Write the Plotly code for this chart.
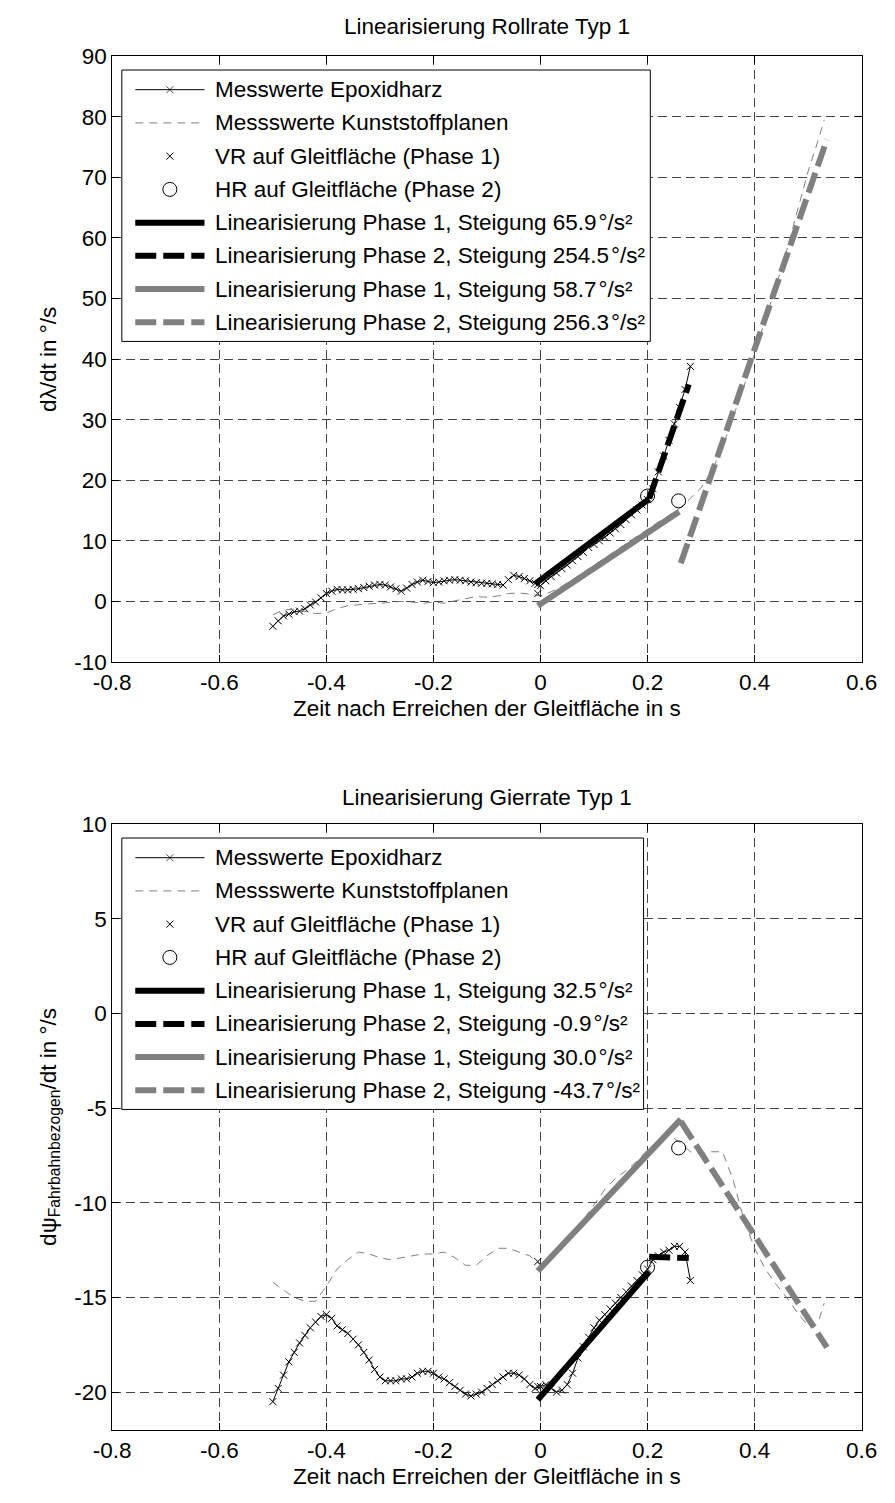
import plotly.graph_objects as go

# ---------------- data ----------------
# sample times of the epoxy measurement (s)
t_epoxy = [-0.50, -0.49, -0.48, -0.47, -0.46, -0.45, -0.44, -0.43, -0.42, -0.41,
           -0.40, -0.39, -0.38, -0.37, -0.36, -0.35, -0.34, -0.33, -0.32, -0.31,
           -0.30, -0.29, -0.28, -0.27, -0.26, -0.25, -0.24, -0.23, -0.22, -0.21,
           -0.20, -0.19, -0.18, -0.17, -0.16, -0.15, -0.14, -0.13, -0.12, -0.11,
           -0.10, -0.09, -0.08, -0.07, -0.06, -0.05, -0.04, -0.03, -0.02, -0.01,
           0.00, 0.01, 0.02, 0.03, 0.04, 0.05, 0.06, 0.07, 0.08, 0.09,
           0.10, 0.11, 0.12, 0.13, 0.14, 0.15, 0.16, 0.17, 0.18, 0.19,
           0.20, 0.21, 0.22, 0.23, 0.24, 0.25, 0.26, 0.27, 0.28]

# roll rate, epoxy surface (deg/s)
roll_epoxy = [-4.1, -3.2, -2.4, -2.1, -1.7, -1.6, -1.2, -0.6, -0.1, 0.6,
              1.3, 1.7, 2.0, 1.9, 1.9, 2.0, 2.1, 2.3, 2.5, 2.7,
              2.8, 2.7, 2.4, 2.1, 1.7, 2.2, 2.8, 3.2, 3.5, 3.3,
              3.1, 3.2, 3.4, 3.5, 3.6, 3.5, 3.4, 3.2, 3.1, 3.0,
              3.0, 2.9, 2.8, 2.7, 3.6, 4.3, 4.1, 3.8, 3.4, 3.0,
              2.6, 3.4, 4.1, 4.7, 5.4, 6.0, 6.7, 7.4, 8.1, 8.9,
              9.4, 10.0, 10.6, 11.3, 12.0, 12.7, 13.5, 14.3, 15.1, 15.9,
              16.8, 18.6, 21.4, 24.0, 26.6, 29.3, 32.0, 35.0, 38.8]

# yaw rate, epoxy surface (deg/s)
yaw_epoxy = [-20.5, -19.8, -19.1, -18.4, -17.9, -17.4, -17.0, -16.6, -16.3, -16.0,
             -15.9, -16.1, -16.5, -16.7, -16.9, -17.2, -17.5, -17.9, -18.3, -18.8,
             -19.2, -19.4, -19.4, -19.4, -19.3, -19.3, -19.2, -19.0, -18.9, -18.9,
             -19.0, -19.2, -19.3, -19.5, -19.7, -19.9, -20.1, -20.2, -20.1, -20.0,
             -19.8, -19.6, -19.4, -19.2, -19.0, -19.0, -19.1, -19.3, -19.6, -19.8,
             -19.7, -19.6, -19.8, -20.0, -19.9, -19.6, -19.0, -18.2, -17.6, -17.1,
             -16.6, -16.2, -15.9, -15.6, -15.3, -15.0, -14.7, -14.4, -14.1, -13.8,
             -13.5, -13.0, -12.8, -12.6, -12.5, -12.3, -12.3, -12.6, -14.1]

# plastic tarpaulin measurement, roll rate
t_plane_roll = [-0.50, -0.48, -0.46, -0.44, -0.42, -0.40, -0.38, -0.36, -0.34, -0.32,
                -0.30, -0.28, -0.26, -0.24, -0.22, -0.20, -0.18, -0.16, -0.14, -0.12,
                -0.10, -0.08, -0.06, -0.04, -0.02, 0.00, 0.02, 0.04, 0.06, 0.08,
                0.10, 0.12, 0.14, 0.16, 0.18, 0.20, 0.22, 0.24, 0.26, 0.28,
                0.30, 0.32, 0.34, 0.36, 0.38, 0.40, 0.42, 0.44, 0.46, 0.48,
                0.50, 0.52, 0.53]
roll_plane = [-2.2, -1.4, -1.3, -1.6, -2.0, -1.9, -1.2, -0.7, -0.5, -0.4,
              -0.3, -0.1, 0.0, -0.1, -0.3, -0.1, -0.3, 0.1, 0.5, 0.8,
              0.7, 0.9, 1.3, 1.4, 1.2, 0.9, 1.6, 2.5, 3.6, 4.8,
              6.0, 7.2, 8.3, 9.5, 10.7, 11.9, 13.1, 14.2, 15.4, 17.0,
              18.8, 21.5, 25.5, 30.5, 35.5, 41.0, 46.5, 52.0, 58.0, 64.5,
              71.0, 76.5, 79.5]

# plastic tarpaulin measurement, yaw rate
t_plane_yaw = [-0.50, -0.48, -0.46, -0.44, -0.42, -0.40, -0.38, -0.36, -0.34, -0.32,
               -0.30, -0.28, -0.26, -0.24, -0.22, -0.20, -0.18, -0.16, -0.14, -0.12,
               -0.10, -0.08, -0.06, -0.04, -0.02, 0.00, 0.02, 0.04, 0.06, 0.08,
               0.10, 0.12, 0.14, 0.16, 0.18, 0.20, 0.22, 0.24, 0.26, 0.28,
               0.30, 0.32, 0.34, 0.36, 0.38, 0.40, 0.42, 0.44, 0.46, 0.48,
               0.50, 0.51, 0.52, 0.53]
yaw_plane = [-14.2, -14.6, -15.0, -15.2, -15.2, -14.4, -13.5, -13.0, -12.6, -12.7,
             -12.9, -13.0, -12.9, -12.8, -12.7, -12.7, -12.6, -12.9, -13.3, -13.3,
             -12.8, -12.4, -12.4, -12.6, -12.8, -13.3, -12.9, -12.3, -11.6, -10.9,
             -10.1, -9.3, -8.7, -8.3, -7.8, -7.2, -6.7, -6.4, -6.8, -7.3,
             -7.4, -7.3, -7.3, -8.8, -10.9, -12.4, -13.5, -14.3, -15.0, -15.8,
             -16.5, -16.6, -16.2, -15.3]

# front wheel (VR) and rear wheel (HR) reaching the sliding surface
roll_vr_x = [-0.005, -0.005]
roll_vr_y = [2.8, 1.3]
roll_hr_x = [0.200, 0.258]
roll_hr_y = [17.4, 16.6]
yaw_vr_x = [-0.005, -0.005]
yaw_vr_y = [-19.7, -13.1]
yaw_hr_x = [0.200, 0.258]
yaw_hr_y = [-13.4, -7.1]

# linearisation: slope (deg/s^2), start / end time, value at start
# order: epoxy phase 1, epoxy phase 2, tarpaulin phase 1, tarpaulin phase 2
roll_slopes = [65.9, 254.5, 58.7, 256.3]
roll_fit_x0 = [-0.010, 0.203, -0.005, 0.262]
roll_fit_x1 = [0.203, 0.277, 0.259, 0.535]
roll_fit_y0 = [2.9, 17.0, -0.7, 6.3]

yaw_slopes = [32.5, -0.9, 30.0, -43.7]
yaw_fit_x0 = [-0.005, 0.203, -0.005, 0.262]
yaw_fit_x1 = [0.203, 0.277, 0.262, 0.535]
yaw_fit_y0 = [-20.4, -12.85, -13.6, -5.7]

x_ticks = [-0.8, -0.6, -0.4, -0.2, 0.0, 0.2, 0.4, 0.6]
x_ticktext = ["-0.8", "-0.6", "-0.4", "-0.2", "0", "0.2", "0.4", "0.6"]
roll_ticks = [-10, 0, 10, 20, 30, 40, 50, 60, 70, 80, 90]
yaw_ticks = [-20, -15, -10, -5, 0, 5, 10]

# ---------------- page geometry ----------------
W, H = 895, 1503
AX_L, AX_R = 97, 877
TOP_T, TOP_B = 45, 661
BOT_T, BOT_B = 826, 1442
AX_W = AX_R - AX_L
AX_H = TOP_B - TOP_T

FONT = "Liberation Sans, Arial, Helvetica, sans-serif"
FS = 22.5
GRAY = "#808080"

styles = {
    "epoxy": dict(mode="lines+markers", line=dict(color="black", width=1),
                  marker=dict(symbol="x-thin", size=7, color="black",
                              line=dict(color="black", width=1))),
    "plane": dict(mode="lines", line=dict(color=GRAY, width=1, dash="8px,6px")),
    "vr": dict(mode="markers", marker=dict(symbol="x-thin", size=7, color="black",
                                            line=dict(color="black", width=1))),
    "hr": dict(mode="markers", marker=dict(symbol="circle-open", size=14, color="black",
                                            line=dict(color="black", width=1))),
    "p1_black": dict(mode="lines", line=dict(color="black", width=6)),
    "p2_black": dict(mode="lines", line=dict(color="black", width=6, dash="21px,7px")),
    "p1_gray": dict(mode="lines", line=dict(color=GRAY, width=6)),
    "p2_gray": dict(mode="lines", line=dict(color=GRAY, width=6, dash="21px,7px")),
}
fit_keys = ["p1_black", "p2_black", "p1_gray", "p2_gray"]

fig = go.Figure()


def add(x, y, key, xa, ya, **extra):
    kw = dict(styles[key])
    kw.update(extra)
    fig.add_trace(go.Scatter(x=x, y=y, xaxis=xa, yaxis=ya, showlegend=False,
                             hoverinfo="skip", **kw))


def draw_panel(xa, ya, t_ep, v_ep, t_pl, v_pl, vr_x, vr_y, hr_x, hr_y,
               slopes, fx0, fx1, fy0):
    add(t_ep, v_ep, "epoxy", xa, ya)
    add(t_pl, v_pl, "plane", xa, ya)
    add(vr_x, vr_y, "vr", xa, ya)
    add(hr_x, hr_y, "hr", xa, ya)
    for key, k, a, b, y0 in zip(fit_keys, slopes, fx0, fx1, fy0):
        add([a, b], [y0, y0 + k * (b - a)], key, xa, ya)


draw_panel("x", "y", t_epoxy, roll_epoxy, t_plane_roll, roll_plane,
           roll_vr_x, roll_vr_y, roll_hr_x, roll_hr_y,
           roll_slopes, roll_fit_x0, roll_fit_x1, roll_fit_y0)
draw_panel("x2", "y2", t_epoxy, yaw_epoxy, t_plane_yaw, yaw_plane,
           yaw_vr_x, yaw_vr_y, yaw_hr_x, yaw_hr_y,
           yaw_slopes, yaw_fit_x0, yaw_fit_x1, yaw_fit_y0)


def fmt_slope(k):
    return f"{k:.1f}\u200a\u00b0/s\u00b2"


def legend_labels(slopes):
    return ["Messwerte Epoxidharz",
            "Messswerte Kunststoffplanen",
            "VR auf Gleitfl\u00e4che (Phase 1)",
            "HR auf Gleitfl\u00e4che (Phase 2)",
            f"Linearisierung Phase 1, Steigung {fmt_slope(slopes[0])}",
            f"Linearisierung Phase 2, Steigung {fmt_slope(slopes[1])}",
            f"Linearisierung Phase 1, Steigung {fmt_slope(slopes[2])}",
            f"Linearisierung Phase 2, Steigung {fmt_slope(slopes[3])}"]


legend_keys = ["epoxy", "plane", "vr", "hr"] + fit_keys
shapes = []
annotations = []


def draw_legend(xa, ya, labels, box_w):
    # legend drawn on a pixel-scaled overlay axis (origin = top-left of the axes)
    shapes.append(dict(type="rect", xref=xa, yref=ya, x0=10, x1=10 + box_w,
                       y0=14, y1=290, layer="between", fillcolor="white",
                       line=dict(color="black", width=1)))
    for i, (key, text) in enumerate(zip(legend_keys, labels)):
        ry = 34 + 33.8 * i
        if key == "epoxy":
            add([24, 60, 96], [ry, ry, ry], key, xa, ya,
                marker=dict(symbol="x-thin", size=[0, 7, 0], color="black",
                            line=dict(color="black", width=1)))
        elif key in ("vr", "hr"):
            add([60], [ry], key, xa, ya)
        else:
            add([24, 96], [ry, ry], key, xa, ya)
        annotations.append(dict(xref=xa, yref=ya, x=104.5, y=ry, text=text,
                                showarrow=False, xanchor="left", yanchor="middle",
                                font=dict(family=FONT, size=FS, color="black")))


draw_legend("x3", "y3", legend_labels(roll_slopes), 550)
draw_legend("x4", "y4", legend_labels(yaw_slopes), 543)


def px_x(p):
    return p / W


def px_y(p):
    return 1 - p / H


xdom = [px_x(AX_L), px_x(AX_R)]
top_dom = [px_y(TOP_B), px_y(TOP_T)]
bot_dom = [px_y(BOT_B), px_y(BOT_T)]


def main_axis(**kw):
    d = dict(showline=True, linecolor="black", linewidth=1, mirror="ticks",
             ticks="inside", ticklen=7, tickwidth=1, tickcolor="black",
             showgrid=True, gridcolor="#444444", gridwidth=1, griddash="9px,5px",
             zeroline=False, tickmode="array",
             tickfont=dict(family=FONT, size=FS, color="black"))
    d.update(kw)
    return d


def overlay_axis(**kw):
    d = dict(visible=False, showgrid=False, zeroline=False, fixedrange=True)
    d.update(kw)
    return d


# titles and axis labels
texts = [
    ("Linearisierung Rollrate Typ 1", (AX_L + AX_R) / 2, 15, 0),
    ("Zeit nach Erreichen der Gleitfl\u00e4che in s", (AX_L + AX_R) / 2, 708, 0),
    ("d\u03bb/dt in \u00b0/s", 30, (TOP_T + TOP_B) / 2, -90),
    ("Linearisierung Gierrate Typ 1", (AX_L + AX_R) / 2, 799, 0),
    ("Zeit nach Erreichen der Gleitfl\u00e4che in s", (AX_L + AX_R) / 2, 1489, 0),
    ("d\u03c8<sub>Fahrbahnbezogen</sub>/dt in \u00b0/s", 32, (BOT_T + BOT_B) / 2, -90),
]
for text, x, y, ang in texts:
    annotations.append(dict(xref="paper", yref="paper", x=px_x(x), y=px_y(y), text=text,
                            showarrow=False, xanchor="center", yanchor="middle",
                            textangle=ang, font=dict(family=FONT, size=FS, color="black")))

fig.update_layout(
    width=W, height=H, margin=dict(l=0, r=0, t=0, b=0),
    paper_bgcolor="white", plot_bgcolor="rgba(0,0,0,0)", showlegend=False,
    font=dict(family=FONT, size=FS, color="black"),
    xaxis=main_axis(domain=xdom, anchor="y", range=[-0.8, 0.6],
                    tickvals=x_ticks, ticktext=x_ticktext),
    yaxis=main_axis(domain=top_dom, anchor="x", range=[-10, 90],
                    tickvals=roll_ticks, ticktext=[str(v) for v in roll_ticks]),
    xaxis2=main_axis(domain=xdom, anchor="y2", range=[-0.8, 0.6],
                     tickvals=x_ticks, ticktext=x_ticktext),
    yaxis2=main_axis(domain=bot_dom, anchor="x2", range=[-22, 10],
                     tickvals=yaw_ticks, ticktext=[str(v) for v in yaw_ticks]),
    xaxis3=overlay_axis(domain=xdom, anchor="y3", range=[0, AX_W]),
    yaxis3=overlay_axis(domain=top_dom, anchor="x3", range=[AX_H, 0]),
    xaxis4=overlay_axis(domain=xdom, anchor="y4", range=[0, AX_W]),
    yaxis4=overlay_axis(domain=bot_dom, anchor="x4", range=[AX_H, 0]),
    shapes=shapes,
    annotations=annotations,
)

fig.write_html("out.html")
